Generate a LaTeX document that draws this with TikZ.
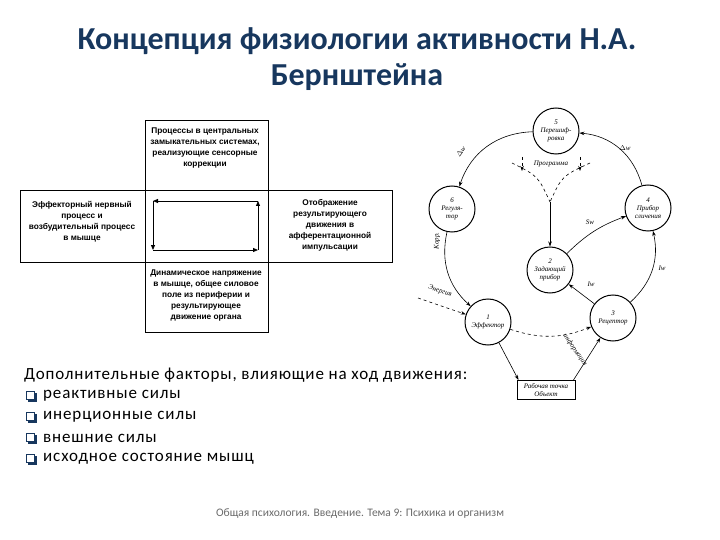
\documentclass[tikz,border=0pt]{standalone}
\usepackage{fontspec}
\setmainfont{Carlito}
\newfontfamily\diafont{Liberation Sans}
\newfontfamily\handfont{Liberation Serif}
\usetikzlibrary{arrows.meta, positioning, calc}
\definecolor{titleblue}{HTML}{17375E}
\definecolor{footgray}{HTML}{6A6A6A}

\begin{document}
\begin{tikzpicture}[x=1pt, y=1pt,
  boxtext/.style={font=\diafont\bfseries\fontsize{8.3}{11}\selectfont, align=center, inner sep=0pt},
  blk/.style={circle, draw, line width=1pt, minimum size=46pt, inner sep=0pt, align=center,
    font=\handfont\itshape\fontsize{7}{8}\selectfont},
  conn/.style={-{Stealth[length=5pt, width=3.5pt]}, line width=0.6pt},
  loop/.style={-{Triangle[length=5pt, width=4pt]}, line width=0.8pt},
  lbl/.style={font=\handfont\itshape\fontsize{7}{8}\selectfont, inner sep=1pt},
  item/.style={anchor=west, font=\addfontfeatures{LetterSpace=5}\fontsize{17}{20}\selectfont, inner sep=0pt}
]
\useasboundingbox (0,0) rectangle (720,-540);

% title
\node[font=\bfseries\fontsize{32}{36}\selectfont, text=titleblue, align=center] (title) at (357,-59)
  {Концепция физиологии активности Н.А.\\Бернштейна};

% left scheme: cross of two boxes
\draw[line width=0.8pt] (145,-120) rectangle (268,-332);
\draw[line width=0.8pt] (20,-190) rectangle (392,-262);

\node[boxtext] (proc) at (205,-148) {Процессы в центральных\\замыкательных системах,\\реализующие сенсорные\\коррекции};
\node[boxtext] (eff) at (82,-222) {Эффекторный нервный\\процесс и\\возбудительный процесс\\в мышце};
\node[boxtext] (otob) at (330,-225) {Отображение\\результирующего\\движения в\\афферентационной\\импульсации};
\node[boxtext] (din) at (206,-296) {Динамическое напряжение\\в мышце, общее силовое\\поле из периферии и\\результирующее\\движение органа};

\coordinate (tl) at (153,-201);
\coordinate (tr) at (258,-201);
\coordinate (br) at (258,-250);
\coordinate (bl) at (153,-250);
\draw[loop] (tr) -- (tl);
\draw[loop] (tl) -- (bl);
\draw[loop] (bl) -- (br);
\draw[loop] (br) -- (tr);

% right scheme: Bernstein ring
\node[blk] (c5) at (556,-131) {5\\Перешиф-\\ровка};
\node[blk] (c6) at (452,-209) {6\\Регуля-\\тор};
\node[blk] (c4) at (648,-208) {4\\Прибор\\сличения};
\node[blk] (c2) at (550,-270) {2\\Задающий\\прибор};
\node[blk] (c3) at (613,-318) {3\\Рецептор};
\node[blk] (c1) at (488,-322) {1\\Эффектор};
\node[draw, line width=1pt, minimum width=58pt, minimum height=19pt, inner sep=1pt, align=center,
  font=\handfont\itshape\fontsize{7}{8}\selectfont] (obj) at (546,-390) {Рабочая точка\\Объект};

\draw[conn] (c4) to[bend right=35] (c5);
\draw[conn] (c5) to[bend right=35] (c6);
\draw[conn] (c6) to[bend right=30] (c1);
\draw[conn] (c3) to[bend right=30] (c4);
\draw[conn] (c2) to[bend left=12] (c4);
\draw[conn] (c3) -- (c2);
\draw[conn, dashed] (c1) to[bend right=20] (c3);
\draw[conn] (c1) -- (obj.160);
\draw[conn] (obj.20) -- (c3);

\coordinate (en) at (418,-298);
\draw[conn, dashed] (en) -- (c1);
\node[lbl, rotate=-18] at (440,-291) {Энергия};

\node[lbl] at (625,-148) {$\Delta$w};
\node[lbl, rotate=55] at (461,-152) {$\Delta$w};
\node[lbl, rotate=90] at (437,-241) {Корр.};
\node[lbl] at (590,-222) {Sw};
\node[lbl] at (591,-284) {Iw};
\node[lbl] at (662,-268) {Iw};
\node[lbl, rotate=-55] at (575,-350) {информация};

% program fork
\node[lbl] (prog) at (551,-164) {Программа};
\coordinate (pl) at (512,-163);
\coordinate (pr) at (590,-163);
\coordinate (yj) at (550,-202);
\draw[dashed, line width=0.6pt] (pl) .. controls (538,-176) .. (yj);
\draw[dashed, line width=0.6pt] (pr) .. controls (562,-176) .. (yj);
\draw[conn, dashed] (522,-157) -- (522,-171);
\draw[conn, dashed] (580,-157) -- (580,-171);
\draw[conn] (yj) -- (c2);

% additional factors
\node[item] (fac) at (24,-375) {Дополнительные факторы, влияющие на ход движения:};
\foreach \i/\t in {1/реактивные силы, 2/инерционные силы, 3/внешние силы, 4/исходное состояние мышц} {
  \fill[titleblue] (27.5,-392.5-21*\i+21) rectangle (36.5,-401.5-21*\i+21);
  \draw[fill=white, line width=0.7pt, draw=titleblue] (26,-391-21*\i+21) rectangle (34,-399-21*\i+21);
  \node[item] (f\i) at (43,-375-21*\i) {\t};
}

% footer
\node[font=\fontsize{11.5}{13}\selectfont, text=footgray] (foot) at (360,-514)
  {Общая психология. Введение. Тема 9: Психика и организм};
\end{tikzpicture}
\end{document}
